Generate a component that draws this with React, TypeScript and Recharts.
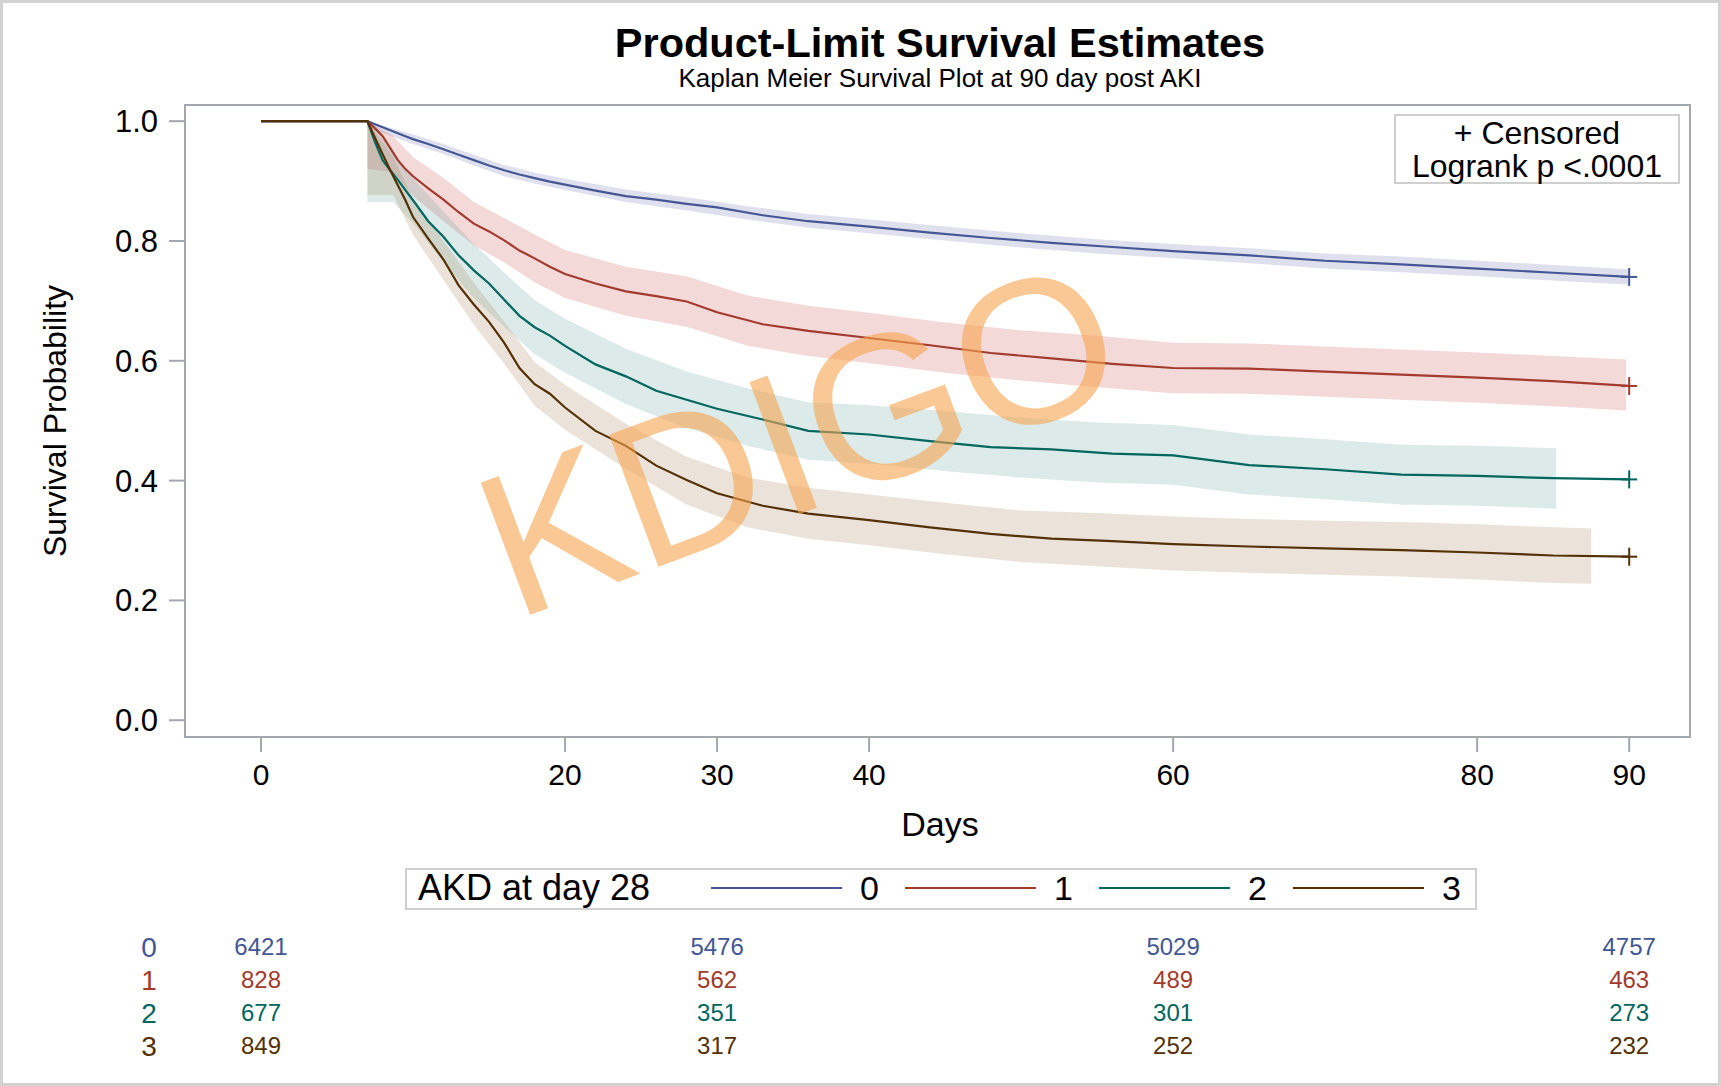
import React from "react";
import {
  ComposedChart,
  ScatterChart,
  Line,
  Area,
  Scatter,
  XAxis,
  YAxis,
  ReferenceArea,
} from "recharts";

const FONT = "Arial, 'Liberation Sans', Helvetica, sans-serif";

// groups: AKD stage at day 28
const groups = ["0", "1", "2", "3"];
const lineColors = ["#445694", "#A23A2E", "#01665E", "#543005"];
const bandColors = ["#6F7EB3", "#D05B5B", "#66A5A0", "#A9865B"];

// survival curves
const days = [0, 7, 7.5, 8, 8.5, 9, 9.5, 10, 11, 12, 13, 14, 15, 16, 17, 18, 19, 20, 22, 24, 26, 28, 30, 33, 36, 40, 44, 48, 52, 56, 60, 65, 70, 75, 80, 85, 90];
const surv0 = [1.0, 1.0, 0.995, 0.99, 0.985, 0.98, 0.975, 0.97, 0.962, 0.953, 0.944, 0.935, 0.926, 0.918, 0.911, 0.905, 0.899, 0.894, 0.884, 0.875, 0.869, 0.862, 0.856, 0.843, 0.833, 0.824, 0.814, 0.805, 0.797, 0.79, 0.783, 0.776, 0.767, 0.761, 0.754, 0.747, 0.74];
const surv1 = [1.0, 1.0, 0.988, 0.975, 0.955, 0.935, 0.92, 0.908, 0.888, 0.869, 0.848, 0.829, 0.816, 0.801, 0.784, 0.771, 0.757, 0.745, 0.729, 0.716, 0.708, 0.699, 0.681, 0.661, 0.65, 0.638, 0.626, 0.613, 0.604, 0.595, 0.588, 0.587, 0.582, 0.577, 0.572, 0.566, 0.558];
const surv2 = [1.0, 1.0, 0.965, 0.935, 0.918, 0.902, 0.885, 0.868, 0.833, 0.807, 0.776, 0.751, 0.729, 0.702, 0.675, 0.656, 0.642, 0.625, 0.594, 0.574, 0.55, 0.535, 0.52, 0.502, 0.483, 0.477, 0.466, 0.456, 0.452, 0.445, 0.442, 0.426, 0.419, 0.41, 0.408, 0.404, 0.402];
const surv3 = [1.0, 1.0, 0.972, 0.945, 0.918, 0.893, 0.868, 0.84, 0.804, 0.769, 0.726, 0.694, 0.665, 0.63, 0.588, 0.561, 0.545, 0.522, 0.483, 0.458, 0.425, 0.401, 0.379, 0.358, 0.345, 0.334, 0.322, 0.311, 0.303, 0.299, 0.294, 0.29, 0.287, 0.284, 0.28, 0.275, 0.273];

// 95% confidence bands
const band0Days = [7, 10, 12, 14, 16, 18, 20, 24, 28, 32, 36, 40, 45, 50, 55, 60, 65, 70, 75, 80, 85, 90];
const band0Lo = [0.99, 0.962, 0.945, 0.926, 0.908, 0.896, 0.885, 0.865, 0.851, 0.836, 0.822, 0.813, 0.801, 0.789, 0.779, 0.771, 0.763, 0.754, 0.748, 0.741, 0.734, 0.727];
const band0Hi = [1.0, 0.978, 0.962, 0.944, 0.927, 0.914, 0.904, 0.886, 0.873, 0.858, 0.845, 0.836, 0.824, 0.813, 0.803, 0.795, 0.788, 0.779, 0.774, 0.767, 0.76, 0.753];

const band1Days = [7, 8.7, 10, 12, 14, 16, 18, 20, 24, 28, 32, 36, 40, 45, 50, 55, 60, 65, 70, 75, 80, 85, 89.8];
const band1Lo = [0.92, 0.915, 0.875, 0.833, 0.793, 0.764, 0.731, 0.705, 0.675, 0.657, 0.625, 0.608, 0.596, 0.58, 0.567, 0.556, 0.546, 0.545, 0.54, 0.535, 0.53, 0.524, 0.517];
const band1Hi = [1.0, 0.975, 0.94, 0.905, 0.865, 0.838, 0.811, 0.785, 0.757, 0.741, 0.709, 0.692, 0.68, 0.664, 0.651, 0.642, 0.63, 0.629, 0.624, 0.619, 0.614, 0.608, 0.602];

const band2Days = [7, 8.7, 10, 12, 14, 16, 18, 20, 24, 28, 32, 36, 40, 45, 50, 55, 60, 65, 70, 75, 80, 85.2];
const band2Lo = [0.865, 0.865, 0.83, 0.765, 0.705, 0.657, 0.611, 0.58, 0.528, 0.488, 0.458, 0.435, 0.428, 0.416, 0.405, 0.397, 0.393, 0.377, 0.369, 0.36, 0.358, 0.353];
const band2Hi = [1.0, 0.95, 0.905, 0.849, 0.795, 0.747, 0.701, 0.67, 0.62, 0.582, 0.554, 0.531, 0.526, 0.516, 0.505, 0.497, 0.493, 0.477, 0.469, 0.46, 0.458, 0.454];

const band3Days = [7, 8.7, 10, 12, 14, 16, 18, 20, 24, 28, 32, 36, 40, 45, 50, 55, 60, 65, 70, 75, 80, 85, 87.5];
const band3Lo = [0.877, 0.877, 0.81, 0.735, 0.66, 0.595, 0.525, 0.485, 0.42, 0.36, 0.322, 0.303, 0.292, 0.277, 0.264, 0.257, 0.25, 0.246, 0.243, 0.24, 0.235, 0.229, 0.228];
const band3Hi = [1.0, 0.94, 0.87, 0.8, 0.73, 0.665, 0.598, 0.56, 0.495, 0.44, 0.405, 0.388, 0.377, 0.363, 0.35, 0.346, 0.34, 0.336, 0.333, 0.331, 0.327, 0.322, 0.32];

// censored marks at the end of follow-up
const censorDay = 90;
const censorValues = [0.74, 0.558, 0.402, 0.273];

// axes
const xTicks = [0, 20, 30, 40, 60, 80, 90];
const yTicks = [0, 0.2, 0.4, 0.6, 0.8, 1.0];

// number at risk
const atRiskDays = [0, 30, 60, 90];
const atRisk0 = [6421, 5476, 5029, 4757];
const atRisk1 = [828, 562, 489, 463];
const atRisk2 = [677, 351, 301, 273];
const atRisk3 = [849, 317, 252, 232];

const survs = [surv0, surv1, surv2, surv3];
const bands = [
  [band0Days, band0Lo, band0Hi],
  [band1Days, band1Lo, band1Hi],
  [band2Days, band2Lo, band2Hi],
  [band3Days, band3Lo, band3Hi],
];
const atRisk = [atRisk0, atRisk1, atRisk2, atRisk3];

const X_DOMAIN: [number, number] = [-5, 94];
const Y_DOMAIN: [number, number] = [-0.028, 1.027];
const FRAME = "#a4a7ab";

function PlusMark(props: any) {
  const { cx, cy, color } = props;
  if (cx == null || cy == null) return null;
  return (
    <g stroke={color} strokeWidth={2}>
      <line x1={cx - 8} x2={cx + 8} y1={cy} y2={cy} />
      <line x1={cx} x2={cx} y1={cy - 9} y2={cy + 9} />
    </g>
  );
}

export default function App() {
  return (
    <div
      style={{
        position: "absolute",
        left: 0,
        top: 0,
        width: 1721,
        height: 1086,
        background: "#fff",
        overflow: "hidden",
        fontFamily: FONT,
      }}
    >
      {/* main survival plot */}
      <div style={{ position: "absolute", left: 0, top: 0 }}>
        <ComposedChart
          width={1721}
          height={860}
          margin={{ top: 105, right: 31, bottom: 63, left: 105 }}
        >
          <XAxis
            type="number"
            dataKey="day"
            domain={X_DOMAIN}
            ticks={xTicks}
            interval={0}
            allowDataOverflow
            height={60}
            tickSize={15}
            tickMargin={12}
            axisLine={false}
            tickLine={{ stroke: FRAME, strokeWidth: 2 }}
            tick={{ fontSize: 30, fill: "#000", fontFamily: FONT }}
          />
          <YAxis
            type="number"
            domain={Y_DOMAIN}
            ticks={yTicks}
            interval={0}
            allowDataOverflow
            width={80}
            tickSize={16}
            tickMargin={11}
            axisLine={false}
            tickLine={{ stroke: FRAME, strokeWidth: 2 }}
            tick={{ fontSize: 31, fill: "#000", fontFamily: FONT }}
            tickFormatter={(v: number) => v.toFixed(1)}
          />
          <ReferenceArea
            x1={X_DOMAIN[0]}
            x2={X_DOMAIN[1]}
            y1={Y_DOMAIN[0]}
            y2={Y_DOMAIN[1]}
            fill="none"
            stroke={FRAME}
            strokeWidth={2}
            ifOverflow="visible"
          />
          {bands.map(([bd, lo, hi], g) => (
            <Area
              key={"band" + g}
              data={bd.map((d, i) => ({ day: d, range: [lo[i], hi[i]] }))}
              dataKey="range"
              type="linear"
              stroke="none"
              fill={bandColors[g]}
              fillOpacity={0.23}
              isAnimationActive={false}
              activeDot={false}
            />
          ))}
          {survs.map((s, g) => (
            <Line
              key={"line" + g}
              data={days.map((d, i) => ({ day: d, v: s[i] }))}
              dataKey="v"
              type="linear"
              stroke={lineColors[g]}
              strokeWidth={2.2}
              dot={false}
              activeDot={false}
              isAnimationActive={false}
            />
          ))}
          {censorValues.map((v, g) => (
            <Scatter
              key={"cens" + g}
              data={[{ day: censorDay, v }]}
              dataKey="v"
              isAnimationActive={false}
              shape={(p: any) => <PlusMark {...p} color={lineColors[g]} />}
            />
          ))}
        </ComposedChart>
      </div>

      {/* number-at-risk table */}
      <div style={{ position: "absolute", left: 0, top: 920 }}>
        <ScatterChart
          width={1721}
          height={166}
          margin={{ top: 10.5, right: 31, bottom: 23.5, left: 125 }}
        >
          <XAxis type="number" dataKey="day" domain={X_DOMAIN} allowDataOverflow hide />
          <YAxis
            type="number"
            dataKey="row"
            domain={[-0.5, 3.5]}
            ticks={[0, 1, 2, 3]}
            interval={0}
            reversed
            width={60}
            axisLine={false}
            tickLine={false}
            tick={(p: any) => (
              <text
                x={149}
                y={p.y}
                dy="0.35em"
                textAnchor="middle"
                fontSize={28}
                fontFamily={FONT}
                fill={lineColors[p.payload.value]}
              >
                {groups[p.payload.value]}
              </text>
            )}
          />
          {atRisk.map((row, g) => (
            <Scatter
              key={"risk" + g}
              data={atRiskDays.map((d, i) => ({ day: d, row: g, n: row[i] }))}
              isAnimationActive={false}
              shape={(p: any) => (
                <text
                  x={p.cx}
                  y={p.cy}
                  dy="0.35em"
                  textAnchor="middle"
                  fontSize={24}
                  fontFamily={FONT}
                  fill={lineColors[g]}
                >
                  {p.payload.n}
                </text>
              )}
            />
          ))}
        </ScatterChart>
      </div>

      {/* titles, labels, insets, legend, watermark */}
      <svg
        width={1721}
        height={1086}
        style={{ position: "absolute", left: 0, top: 0, pointerEvents: "none" }}
        fontFamily={FONT}
      >
        <text x={940} y={57} textAnchor="middle" fontSize={41.5} fontWeight="bold" fill="#000">
          Product-Limit Survival Estimates
        </text>
        <text x={940} y={87} textAnchor="middle" fontSize={26} fill="#000">
          Kaplan Meier Survival Plot at 90 day post AKI
        </text>
        <text x={940} y={836} textAnchor="middle" fontSize={34} fill="#000">
          Days
        </text>
        <text transform="translate(66,421) rotate(-90)" textAnchor="middle" fontSize={32} fill="#000">
          Survival Probability
        </text>

        {/* inset */}
        <rect x={1395} y={115} width={284} height={68} fill="#fff" stroke="#cfcfcf" strokeWidth={2} />
        <text textAnchor="middle" fontSize={32} fill="#000">
          <tspan x={1537} y={144}>+ Censored</tspan>
          <tspan x={1537} y={177}>Logrank p &lt;.0001</tspan>
        </text>

        {/* legend */}
        <rect x={406} y={869} width={1070} height={40} fill="#fff" stroke="#cfcfcf" strokeWidth={2} />
        <text x={418} y={900} fontSize={36} fill="#000">
          AKD at day 28
        </text>
        {groups.map((g, i) => (
          <g key={"leg" + g}>
            <line x1={711 + i * 194} x2={842 + i * 194} y1={888} y2={888} stroke={lineColors[i]} strokeWidth={2.2} />
            <text x={860 + i * 194} y={900} fontSize={34} fill="#000">
              {g}
            </text>
          </g>
        ))}

        {/* watermark */}
        <text
          transform="translate(824,505) rotate(-20.5)"
          textAnchor="middle"
          fontSize={205}
          fill="#f7a34f"
          fillOpacity={0.6}
        >
          KDIGO
        </text>
      </svg>

      <div
        style={{
          position: "absolute",
          left: 0,
          top: 0,
          width: 1721,
          height: 1086,
          boxSizing: "border-box",
          border: "3px solid #d2d2d2",
          pointerEvents: "none",
        }}
      />
    </div>
  );
}
